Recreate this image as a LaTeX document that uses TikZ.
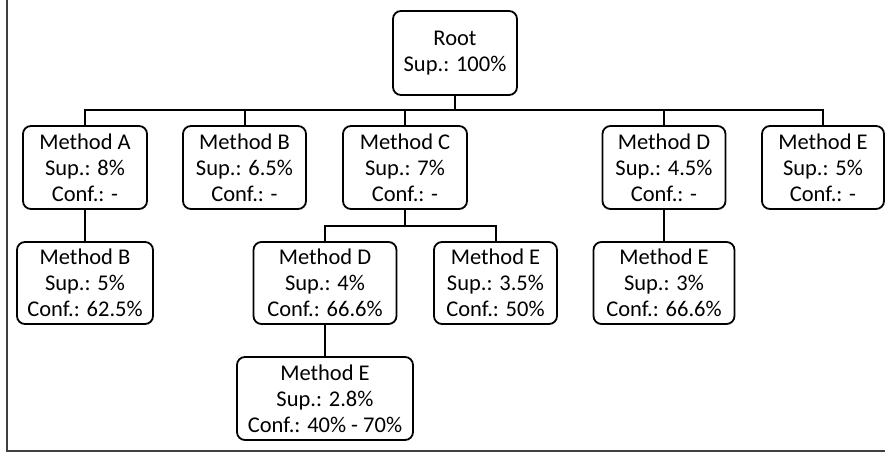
\documentclass[tikz,border=0pt]{standalone}
\usepackage{fontspec}
\setmainfont{Carlito}
\begin{document}
\begin{tikzpicture}[x=1pt,y=-1pt,
  box/.style={draw, line width=1.8pt, rounded corners=8pt, fill=white,
    inner sep=0pt, align=center, font=\fontsize{22.5}{26}\selectfont},
  link/.style={line width=2pt},
  frameline/.style={line width=1.5pt, draw=black!75}]
\useasboundingbox (0,0) rectangle (885,453);
\draw[frameline] (7,0) -- (7,451) -- (885,451);
% root
\node[box, minimum width=124pt, minimum height=84pt] (root) at (455,53) {Root\\Sup.: 100\%};
% level 1
\node[box, minimum width=124pt, minimum height=83pt] (A)  at (85,167.5)  {Method A\\Sup.: 8\%\\Conf.: -};
\node[box, minimum width=123pt, minimum height=83pt] (B1) at (244.5,167.5) {Method B\\Sup.: 6.5\%\\Conf.: -};
\node[box, minimum width=124pt, minimum height=83pt] (C)  at (405,167.5)  {Method C\\Sup.: 7\%\\Conf.: -};
\node[box, minimum width=123pt, minimum height=83pt] (D1) at (664,167.5)  {Method D\\Sup.: 4.5\%\\Conf.: -};
\node[box, minimum width=122pt, minimum height=83pt] (E1) at (823,167.5)  {Method E\\Sup.: 5\%\\Conf.: -};
% level 2
\node[box, minimum width=136pt, minimum height=82pt] (B2) at (85,283)    {Method B\\Sup.: 5\%\\Conf.: 62.5\%};
\node[box, minimum width=143pt, minimum height=82pt] (D2) at (325,283)   {Method D\\Sup.: 4\%\\Conf.: 66.6\%};
\node[box, minimum width=123pt, minimum height=82pt] (E2) at (495.5,283) {Method E\\Sup.: 3.5\%\\Conf.: 50\%};
\node[box, minimum width=141pt, minimum height=82pt] (E3) at (664,283)   {Method E\\Sup.: 3\%\\Conf.: 66.6\%};
% level 3
\node[box, minimum width=176pt, minimum height=83pt] (E4) at (325,398.5) {Method E\\Sup.: 2.8\%\\Conf.: 40\% - 70\%};
% connectors
\foreach \c in {A,B1,C,D1,E1}
  \draw[link] (root.south) -- ++(0,14) -| (\c.north);
\draw[link] (A.south) -- (B2.north);
\foreach \c in {D2,E2}
  \draw[link] (C.south) -- ++(0,16) -| (\c.north);
\draw[link] (D1.south) -- (E3.north);
\draw[link] (D2.south) -- (E4.north);
\end{tikzpicture}
\end{document}
